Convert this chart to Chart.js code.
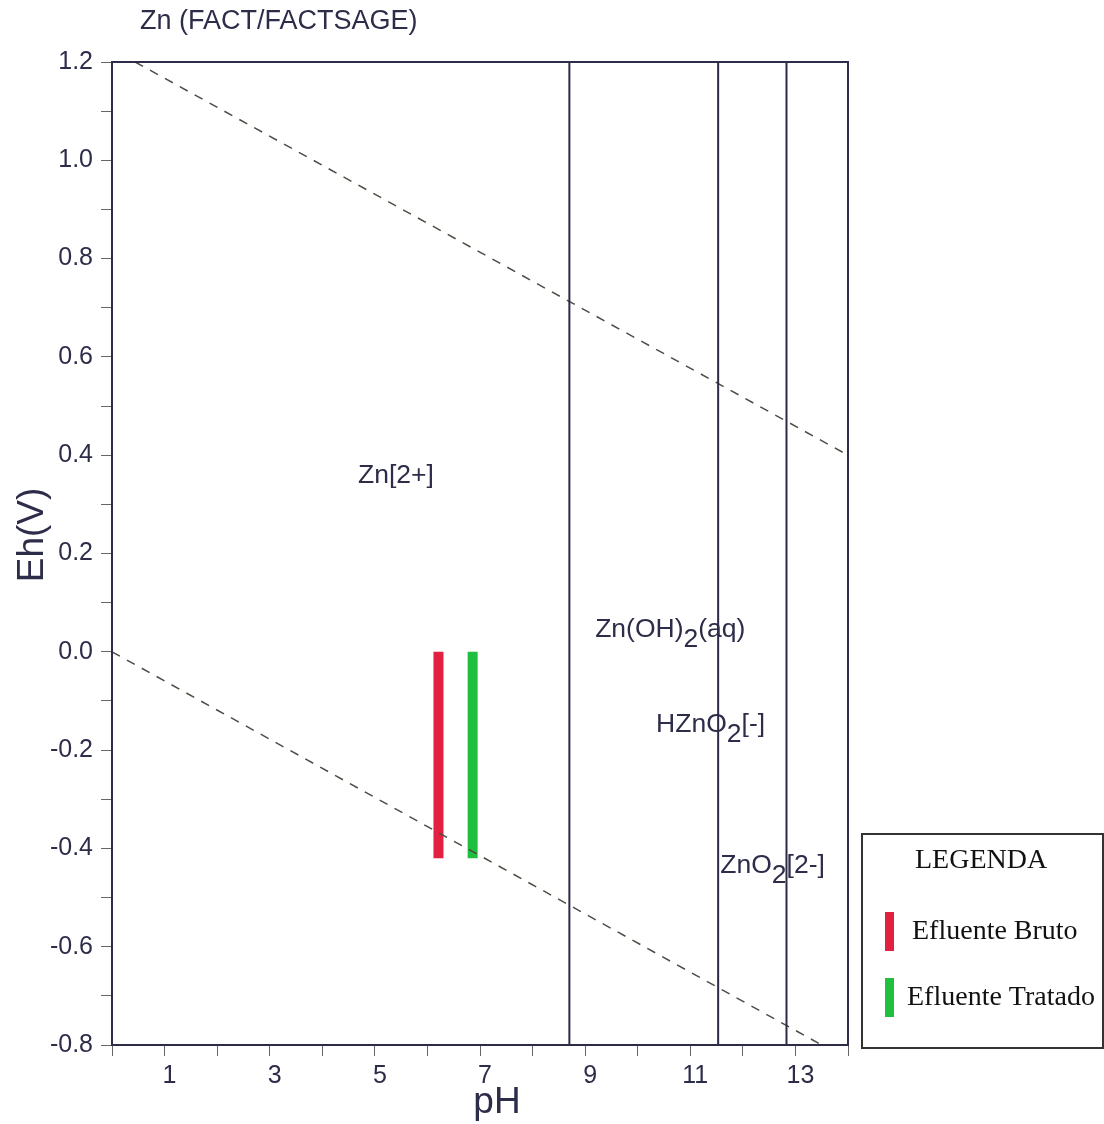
<!DOCTYPE html>
<html>
<head>
<meta charset="utf-8">
<script src="https://cdn.jsdelivr.net/npm/chart.js@4.4.0/dist/chart.umd.min.js"></script>
<style>
  html, body { margin: 0; padding: 0; background: #fff; }
  #wrap { width: 1104px; height: 1124px; position: relative; }
</style>
</head>
<body>
<div id="wrap"><canvas id="pourbaix"></canvas></div>
<script>
// Zn Eh-pH diagram
const phRange = [0, 14];
const ehRange = [-0.8, 1.2];

// vertical stability boundaries (pH)
const boundaryPH = [8.70, 11.53, 12.83];

// water stability lines (O2/H2O above, H2O/H2 below)
const o2LinePH = [0.44, 14];
const o2LineEh = [1.2, 0.40];
const h2LinePH = [0, 13.5];
const h2LineEh = [0.0, -0.8];

// measured effluents: pH and Eh span
const sampleNames = ['Efluente Bruto', 'Efluente Tratado'];
const samplePH = [6.21, 6.86];
const sampleEhTop = [0.0, 0.0];
const sampleEhBottom = [-0.42, -0.42];

// species fields: [text, subscript, rest] with anchor pH / Eh
const speciesText = [['Zn[2+]', '', ''], ['Zn(OH)', '2', '(aq)'], ['HZnO', '2', '[-]'], ['ZnO', '2', '[2-]']];
const speciesPH = [4.68, 9.19, 10.35, 11.57];
const speciesEh = [0.358, 0.044, -0.149, -0.436];

const sampleColors = ['#e2203f', '#1fc03f'];
const ink = '#2d2d4a';
const sans = '"Liberation Sans", Arial, sans-serif';
const serif = '"Liberation Serif", "Times New Roman", serif';

const datasets = [];
boundaryPH.forEach(ph => {
  datasets.push({
    data: [{ x: ph, y: ehRange[1] }, { x: ph, y: ehRange[0] }],
    borderColor: '#2b2b48', borderWidth: 2, pointRadius: 0, showLine: true
  });
});
[[o2LinePH, o2LineEh], [h2LinePH, h2LineEh]].forEach(([xs, ys]) => {
  datasets.push({
    data: xs.map((x, i) => ({ x, y: ys[i] })),
    borderColor: '#4d4d44', borderWidth: 1.5, borderDash: [9, 8],
    pointRadius: 0, showLine: true
  });
});
samplePH.forEach((ph, i) => {
  datasets.push({
    label: sampleNames[i],
    data: [{ x: ph, y: sampleEhTop[i] }, { x: ph, y: sampleEhBottom[i] }],
    borderColor: sampleColors[i], borderWidth: 10, borderCapStyle: 'butt',
    pointRadius: 0, showLine: true
  });
});

const decorations = {
  id: 'decorations',
  afterDatasetsDraw(chart) {
    const { ctx, chartArea: a, scales: { x, y } } = chart;
    ctx.save();

    // frame
    ctx.strokeStyle = ink;
    ctx.lineWidth = 2;
    ctx.strokeRect(a.left, a.top, a.right - a.left, a.bottom - a.top);

    // species labels
    ctx.fillStyle = ink;
    ctx.textBaseline = 'middle';
    ctx.textAlign = 'left';
    speciesText.forEach((parts, i) => {
      let px = x.getPixelForValue(speciesPH[i]);
      const py = y.getPixelForValue(speciesEh[i]);
      ctx.font = '26.5px ' + sans;
      ctx.fillText(parts[0], px, py);
      px += ctx.measureText(parts[0]).width;
      if (parts[1]) {
        ctx.fillText(parts[1], px, py + 10);
        px += ctx.measureText(parts[1]).width;
        ctx.fillText(parts[2], px, py);
      }
    });

    // title and axis titles
    ctx.font = '27px ' + sans;
    ctx.fillText('Zn (FACT/FACTSAGE)', 140, 22);
    ctx.font = '37px ' + sans;
    ctx.textAlign = 'center';
    ctx.fillText('pH', 497, 1103);
    ctx.translate(33, 535);
    ctx.rotate(-Math.PI / 2);
    ctx.fillText('Eh(V)', 0, 0);
    ctx.restore();

    // legend box
    ctx.save();
    ctx.strokeStyle = '#333';
    ctx.lineWidth = 2;
    ctx.strokeRect(862, 834, 241, 214);
    ctx.fillStyle = '#111';
    ctx.textBaseline = 'middle';
    ctx.font = '28px ' + serif;
    ctx.fillText('LEGENDA', 915, 861);
    const rows = [932, 998];
    sampleNames.forEach((name, i) => {
      ctx.fillStyle = sampleColors[i];
      ctx.fillRect(885, rows[i] - 20, 9, 39);
      ctx.fillStyle = '#111';
      ctx.fillText(name, i === 0 ? 912 : 907, rows[i]);
    });
    ctx.restore();
  }
};

new Chart(document.getElementById('pourbaix'), {
  type: 'scatter',
  data: { datasets },
  options: {
    responsive: true,
    maintainAspectRatio: false,
    animation: false,
    layout: { padding: { top: 62, right: 256, left: 0, bottom: 0 } },
    plugins: { legend: { display: false }, tooltip: { enabled: false } },
    scales: {
      x: {
        type: 'linear', min: phRange[0], max: phRange[1],
        afterFit: s => { s.height = 79; },
        border: { color: ink, width: 2 },
        grid: { drawOnChartArea: false, tickLength: 11, color: '#666' },
        ticks: {
          stepSize: 1, autoSkip: false, maxRotation: 0, padding: 5, labelOffset: 5,
          color: ink, font: { family: sans, size: 25 },
          callback: v => (v % 2 === 1 ? String(v) : '')
        }
      },
      y: {
        type: 'linear', min: ehRange[0], max: ehRange[1],
        afterFit: s => { s.width = 112; },
        border: { color: ink, width: 2 },
        grid: { drawOnChartArea: false, tickLength: 11, color: '#666' },
        ticks: {
          stepSize: 0.1, autoSkip: false, maxTicksLimit: 40, padding: 8,
          color: ink, font: { family: sans, size: 25 },
          callback: v => {
            const k = Math.round(v * 10);
            return k % 2 === 0 ? (k / 10).toFixed(1) : '';
          }
        }
      }
    }
  },
  plugins: [decorations]
});
</script>
</body>
</html>
